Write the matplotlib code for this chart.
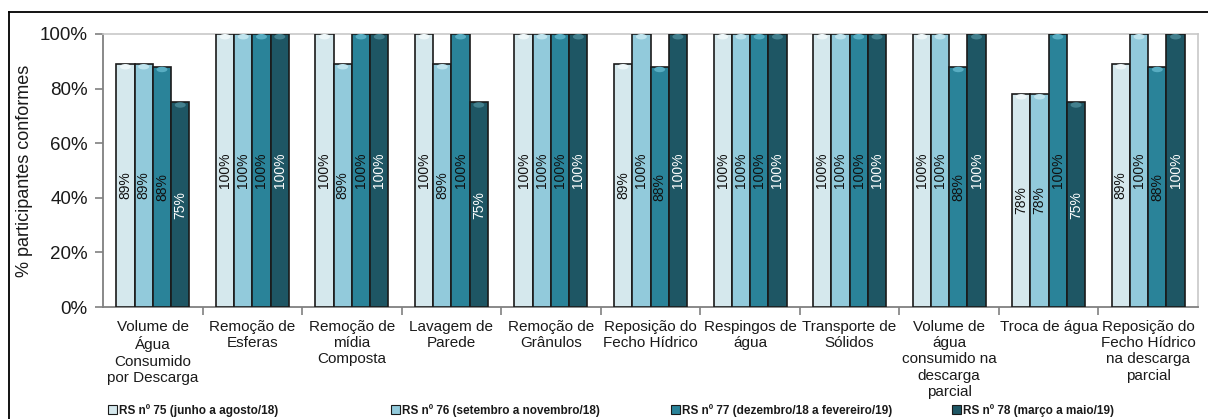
import matplotlib
matplotlib.use("Agg")
import matplotlib.pyplot as plt
import numpy as np
from matplotlib.lines import Line2D
from matplotlib.patches import Ellipse
from matplotlib.ticker import FixedLocator, PercentFormatter

plt.rcParams['font.family'] = ['Liberation Sans', 'DejaVu Sans']

categories = [
    "Volume de\nÁgua\nConsumido\npor Descarga",
    "Remoção de\nEsferas",
    "Remoção de\nmídia\nComposta",
    "Lavagem de\nParede",
    "Remoção de\nGrânulos",
    "Reposição do\nFecho Hídrico",
    "Respingos de\nágua",
    "Transporte de\nSólidos",
    "Volume de\nágua\nconsumido na\ndescarga\nparcial",
    "Troca de água",
    "Reposição do\nFecho Hídrico\nna descarga\nparcial",
]
series_names = [
    "RS nº 75 (junho a agosto/18)",
    "RS nº 76 (setembro a novembro/18)",
    "RS nº 77 (dezembro/18 a fevereiro/19)",
    "RS nº 78 (março a maio/19)",
]
rs75 = [89, 100, 100, 100, 100, 89, 100, 100, 100, 78, 89]
rs76 = [89, 100, 89, 89, 100, 100, 100, 100, 100, 78, 100]
rs77 = [88, 100, 100, 100, 100, 88, 100, 100, 88, 100, 88]
rs78 = [75, 100, 100, 75, 100, 100, 100, 100, 100, 75, 100]
series = [rs75, rs76, rs77, rs78]

colors = ["#d5e8ed", "#92cadb", "#2a8399", "#1e5664"]
highlights = ["#eef7f9", "#bfe4ee", "#58adc2", "#43808e"]
text_colors = ["#111111", "#111111", "#111111", "#ffffff"]

fig = plt.figure(figsize=(12.08, 4.19), dpi=100)
ax = fig.add_axes([0.0853, 0.2673, 0.9064, 0.6516])

x = np.arange(len(categories))
w = 0.1835
for i, (vals, c, hc, tc) in enumerate(zip(series, colors, highlights, text_colors)):
    pos = x + (i - 1.5) * w
    ax.bar(pos, vals, width=w, color=c, edgecolor="#1a1a1a", linewidth=1.2,
           label=series_names[i], zorder=3)
    for xp, v in zip(pos, vals):
        ax.add_patch(Ellipse((xp, v - 1.0), w * 0.6, 2.0, facecolor=hc,
                             edgecolor="none", zorder=4))
        ax.text(xp, v / 2, f"{v}%", rotation=90, ha="center", va="center",
                fontsize=10, color=tc, zorder=5)

ax.set_xlim(-0.5, len(categories) - 0.5)
ax.set_ylim(0, 100)
ax.yaxis.set_major_locator(FixedLocator([0, 20, 40, 60, 80, 100]))
ax.yaxis.set_major_formatter(PercentFormatter(decimals=0))
ax.set_xticks(x)
ax.set_xticklabels(categories, fontsize=11, linespacing=1.22, color="#1a1a1a")
ax.set_xticks(np.arange(0.5, len(categories) - 0.5, 1.0), minor=True)
ax.tick_params(axis="x", which="major", length=0, pad=9)
ax.tick_params(axis="x", which="minor", length=6, color="#808080", width=1.2)
ax.tick_params(axis="y", length=6, color="#808080", width=1.2, labelsize=13.5,
               labelcolor="#1a1a1a", pad=5)
ax.set_ylabel("% participantes conformes", fontsize=13, color="#1a1a1a", labelpad=5)

for s in ["left", "bottom"]:
    ax.spines[s].set_color("#808080")
    ax.spines[s].set_linewidth(1.3)
for s in ["top", "right"]:
    ax.spines[s].set_color("#c8c8c8")
    ax.spines[s].set_linewidth(1.2)

# legend: four entries spread along the bottom
leg_x = [106 / 1208, 389 / 1208, 669 / 1208, 950 / 1208]
for i, c in enumerate(colors):
    h = plt.Rectangle((0, 0), 1, 1, facecolor=c, edgecolor="#1a1a1a", linewidth=0.8)
    leg = fig.legend([h], [series_names[i]], loc="lower left",
                     bbox_to_anchor=(leg_x[i], 0.0), frameon=True, fontsize=8.5,
                     handlelength=0.7, handleheight=0.7, handletextpad=0.2,
                     borderpad=0.2, borderaxespad=0.0)
    fr = leg.get_frame()
    fr.set_facecolor("white")
    fr.set_edgecolor("none")
    fr.set_alpha(1.0)
    for t in leg.get_texts():
        t.set_fontweight("bold")
        t.set_color("#1a1a1a")

# figure border (top and left)
fig.add_artist(Line2D([9 / 1208, 9 / 1208], [0, 1 - 12 / 419], transform=fig.transFigure,
                      color="black", linewidth=1.3))
fig.add_artist(Line2D([9 / 1208, 1], [1 - 12 / 419, 1 - 12 / 419], transform=fig.transFigure,
                      color="black", linewidth=1.3))

fig.savefig("out.png", dpi=100)
